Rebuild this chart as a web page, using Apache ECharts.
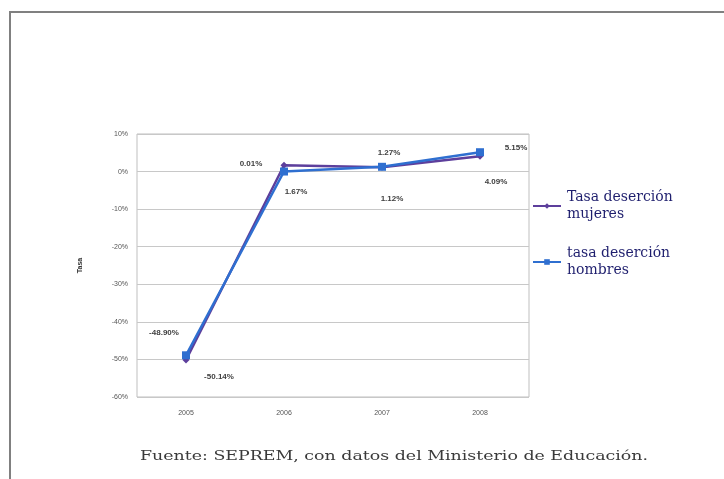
<!DOCTYPE html>
<html><head><meta charset="utf-8">
<script src="https://cdn.jsdelivr.net/npm/echarts@6/dist/echarts.min.js"></script>
<style>html,body{margin:0;padding:0;background:#fff}#c{width:724px;height:479px}</style>
</head><body><div id="c"></div>
<script>
const years = ['2005','2006','2007','2008'];
const mujeres = [-50.14, 1.67, 1.12, 4.09];
const hombres = [-48.90, 0.01, 1.27, 5.15];
const yTicks = [-60,-50,-40,-30,-20,-10,0,10];
const mujeresName = 'Tasa deserción\nmujeres';
const hombresName = 'tasa deserción\nhombres';
const caption = 'Fuente: SEPREM, con datos del Ministerio de Educación.';

const mujeresOffsets = [[33,17],[12,26],[10,31],[16,26]];
const hombresOffsets = [[-22,-22],[-33,-8],[7,-14],[36,-4]];

const labelStyle = {fontSize: 8, fontWeight: 'bold', color: '#404040', fontFamily: 'Liberation Sans'};
function build(vals, offs){
  return vals.map((v,i)=>({value:v, label:Object.assign({show:true, position:'inside', offset:offs[i],
    formatter: p => p.value.toFixed(2)+'%'}, labelStyle)}));
}

const capFont = '13px "DejaVu Serif"';
const ctx = document.createElement('canvas').getContext('2d');
ctx.font = capFont;
const capW = ctx.measureText(caption).width;
const capScale = 508 / capW;

const chart = echarts.init(document.getElementById('c'), null, {renderer:'canvas'});
chart.setOption({
  animation:false,
  backgroundColor:'#fff',
  graphic:[
    {type:'polyline', shape:{points:[[10,479],[10,12],[724,12]]}, style:{stroke:'#808080', lineWidth:2, fill:null}},
    {type:'text', x:140, y:450, scaleX:capScale, style:{text:caption, font:capFont, fill:'#3a3a3a'}}
  ],
  grid:{left:137, top:134, width:392, height:263, show:true, borderColor:'#bfbfbf', borderWidth:1},
  legend:{
    orient:'vertical', left:527, top:184, itemGap:22, itemWidth:28, itemHeight:7,
    textStyle:{fontFamily:'DejaVu Serif', fontSize:14, color:'#1f1f6e', lineHeight:17, padding:[0,0,0,1]},
    data:[mujeresName, hombresName]
  },
  xAxis:{type:'category', data:years, boundaryGap:true,
    axisLine:{show:false}, axisTick:{show:false},
    axisLabel:{fontSize:7, color:'#555', margin:13, fontFamily:'Liberation Sans'}},
  yAxis:{type:'value', min:-60, max:10, interval:10, name:'Tasa', nameLocation:'middle', nameRotate:90, nameGap:53,
    nameTextStyle:{fontSize:7, fontWeight:'bold', color:'#333'},
    axisLine:{show:false}, axisTick:{show:false},
    splitLine:{lineStyle:{color:'#c8c8c8', width:1}},
    axisLabel:{fontSize:7, color:'#555', margin:9, fontFamily:'Liberation Sans',
      formatter: v => yTicks.includes(v) ? v+'%' : ''}},
  series:[
    {name:mujeresName, type:'line', data:build(mujeres, mujeresOffsets), symbol:'diamond', symbolSize:7,
      lineStyle:{color:'#5d3f9c', width:2.5}, itemStyle:{color:'#5d3f9c'}},
    {name:hombresName, type:'line', data:build(hombres, hombresOffsets), symbol:'rect', symbolSize:8,
      lineStyle:{color:'#2f6fd0', width:2.5}, itemStyle:{color:'#2f6fd0'}}
  ]
});
</script></body></html>
